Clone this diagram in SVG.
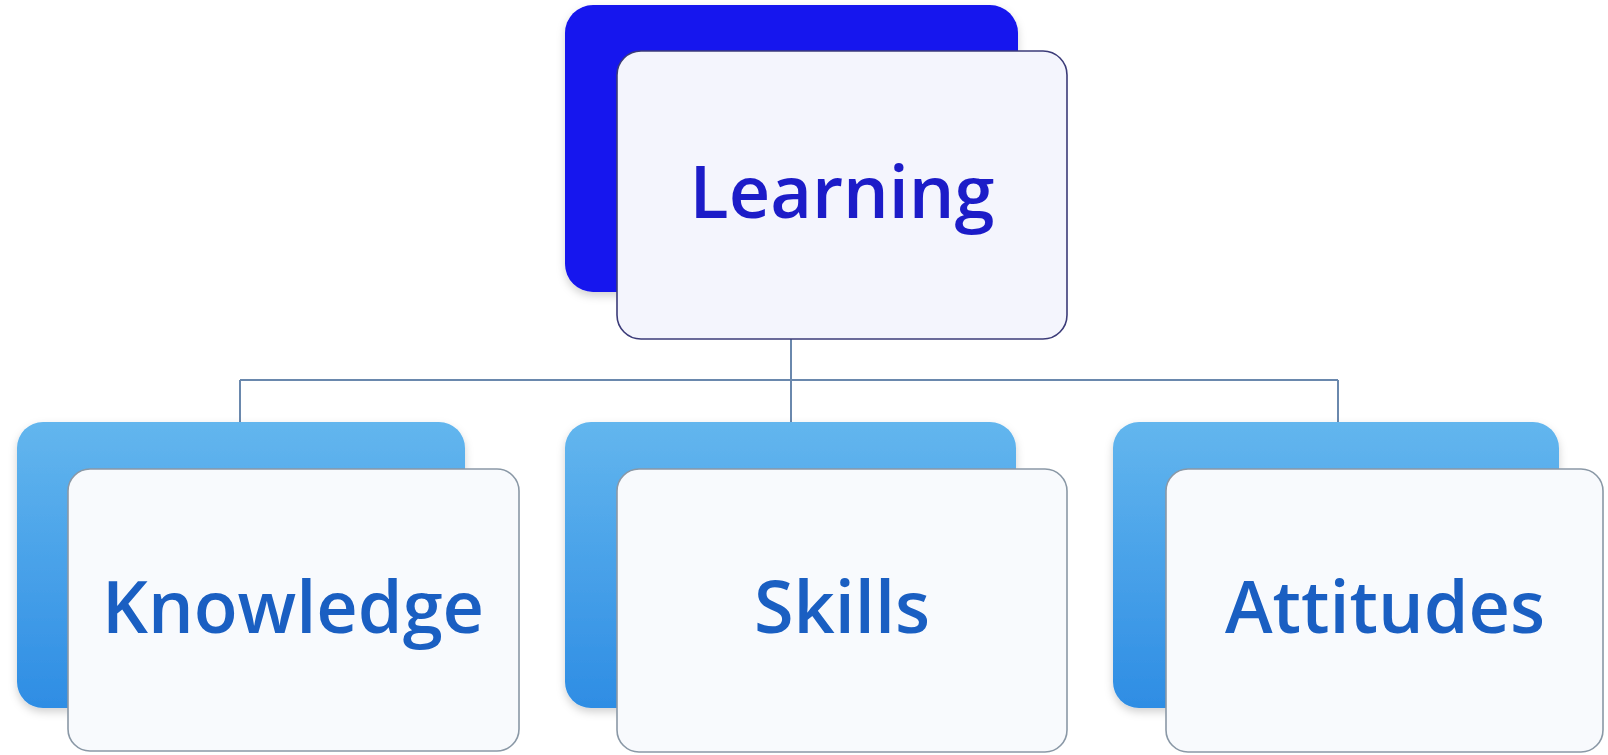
<svg xmlns="http://www.w3.org/2000/svg" width="1608" height="755" viewBox="0 0 1608 755">
  <defs>
    <linearGradient id="blueGrad" x1="0" y1="0" x2="0" y2="1">
      <stop offset="0" stop-color="#63b6ee"/>
      <stop offset="1" stop-color="#2e8de4"/>
    </linearGradient>
    <filter id="shadow" x="-10%" y="-10%" width="120%" height="125%">
      <feDropShadow dx="0" dy="4" stdDeviation="4" flood-color="#000" flood-opacity="0.18"/>
    </filter>
    <style>
      .back-top { fill: #1414ee; }
      .back { fill: url(#blueGrad); }
      .front-top { fill: #f4f5fd; stroke: #3b3b78; stroke-width: 1.6; }
      .front { fill: #f8fafd; stroke: #8a98a6; stroke-width: 1.6; }
      .label { font-family: "Open Sans", "Noto Sans", sans-serif; font-size: 72px; font-weight: 600; text-anchor: middle; }
      .label-top { fill: #1c1cc8; }
      .label-sub { fill: #1a5fc2; }
      .conn { stroke: #6a88ad; stroke-width: 2; fill: none; }
    </style>
  </defs>
  <rect width="1608" height="755" fill="#ffffff"/>

  <g id="connectors">
    <line class="conn" x1="791" y1="339" x2="791" y2="422"/>
    <line class="conn" x1="240" y1="380" x2="1338" y2="380"/>
    <line class="conn" x1="240" y1="380" x2="240" y2="422"/>
    <line class="conn" x1="1338" y1="380" x2="1338" y2="422"/>
  </g>

  <g id="node-learning">
    <rect class="back-top" x="565" y="5" width="453" height="287" rx="28" filter="url(#shadow)"/>
    <rect class="front-top" x="617" y="51" width="450" height="288" rx="24"/>
    <text class="label label-top" x="842" y="218">Learning</text>
  </g>

  <g id="node-knowledge">
    <rect class="back" x="17" y="422" width="448" height="286" rx="26" filter="url(#shadow)"/>
    <rect class="front" x="68" y="469" width="451" height="282" rx="22"/>
    <text class="label label-sub" x="293" y="633">Knowledge</text>
  </g>

  <g id="node-skills">
    <rect class="back" x="565" y="422" width="451" height="286" rx="26" filter="url(#shadow)"/>
    <rect class="front" x="617" y="469" width="450" height="283" rx="22"/>
    <text class="label label-sub" x="842" y="633">Skills</text>
  </g>

  <g id="node-attitudes">
    <rect class="back" x="1113" y="422" width="446" height="286" rx="26" filter="url(#shadow)"/>
    <rect class="front" x="1166" y="469" width="437" height="283" rx="22"/>
    <text class="label label-sub" x="1385" y="633">Attitudes</text>
  </g>
</svg>
